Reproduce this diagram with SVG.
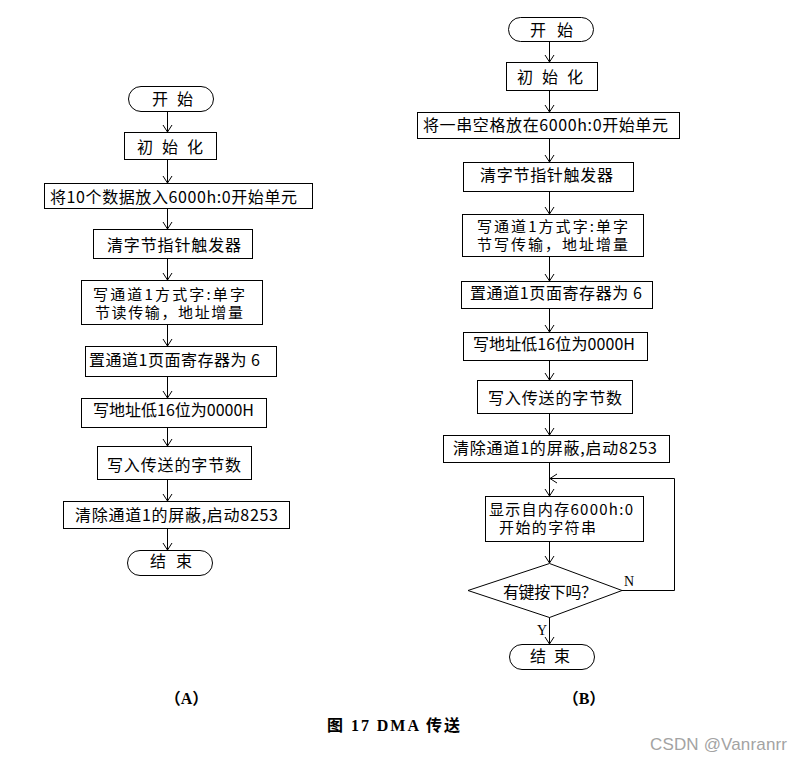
<svg xmlns="http://www.w3.org/2000/svg" width="805" height="760" viewBox="0 0 805 760">
<style>
  .box { fill: #fff; stroke: #000; stroke-width: 1; }
  .t { font-family: "Noto Sans CJK SC", "Liberation Sans", sans-serif; font-size: 16px; fill: #000; }
  .t2 { font-family: "Noto Sans CJK SC", "Liberation Sans", sans-serif; font-size: 15px; fill: #000; }
  .lbl { font-family: "Liberation Serif", serif; font-size: 13px; fill: #000; }
  .cap { font-family: "Liberation Serif", "Noto Sans CJK SC", serif; font-weight: bold; font-size: 16px; fill: #000; }
  .conn { fill: none; stroke: #000; stroke-width: 1; }
  .wm { font-family: "Liberation Sans", sans-serif; font-size: 17px; fill: #a3a3a3; }
</style>
<defs>
  <marker id="arr" markerUnits="userSpaceOnUse" markerWidth="12" markerHeight="12" refX="0" refY="0" viewBox="-8 -6 10 12" orient="auto" overflow="visible">
    <path d="M-7,-4.5 L0,0 L-7,4.5" fill="none" stroke="#000" stroke-width="1"/>
  </marker>
</defs>
<rect width="805" height="760" fill="#fff"/>

<!-- Connectors -->
<g id="connectors" class="conn" marker-end="url(#arr)">
  <line x1="167.5" y1="111" x2="167.5" y2="132"/>
  <line x1="167.5" y1="159" x2="167.5" y2="183"/>
  <line x1="167.5" y1="208" x2="167.5" y2="229"/>
  <line x1="167.5" y1="258" x2="167.5" y2="280"/>
  <line x1="167.5" y1="324" x2="167.5" y2="346"/>
  <line x1="167.5" y1="376" x2="167.5" y2="398"/>
  <line x1="167.5" y1="427" x2="167.5" y2="446"/>
  <line x1="167.5" y1="479" x2="167.5" y2="501"/>
  <line x1="167.5" y1="528" x2="167.5" y2="550"/>

  <line x1="549.5" y1="41" x2="549.5" y2="62"/>
  <line x1="549.5" y1="90" x2="549.5" y2="112"/>
  <line x1="549.5" y1="138" x2="549.5" y2="162"/>
  <line x1="549.5" y1="191" x2="549.5" y2="214"/>
  <line x1="549.5" y1="256" x2="549.5" y2="281"/>
  <line x1="549.5" y1="308" x2="549.5" y2="332"/>
  <line x1="549.5" y1="360" x2="549.5" y2="380"/>
  <line x1="549.5" y1="413" x2="549.5" y2="435"/>
  <line x1="549.5" y1="462" x2="549.5" y2="496"/>
  <line x1="549.5" y1="541" x2="549.5" y2="563"/>
  <line x1="549.5" y1="617" x2="549.5" y2="644"/>
  <polyline points="622,590.5 674.5,590.5 674.5,478.5 550,478.5"/>
</g>

<!-- Flowchart A -->
<g id="a-start"><rect class="box" x="128.5" y="86.5" width="85" height="25" rx="12.5"/><text class="t" x="152" y="105" textLength="41">开 始</text></g>
<g id="a-init"><rect class="box" x="124.5" y="132.5" width="92" height="27"/><text class="t" x="137" y="153" textLength="66">初 始 化</text></g>
<g id="a-load"><rect class="box" x="44.5" y="183.5" width="268" height="25"/><text class="t" x="50" y="203" textLength="247">将10个数据放入6000h:0开始单元</text></g>
<g id="a-clear"><rect class="box" x="93.5" y="229.5" width="159" height="29"/><text class="t" x="107" y="251" textLength="134">清字节指针触发器</text></g>
<g id="a-mode"><rect class="box" x="81.5" y="280.5" width="181" height="44"/><text class="t2" x="93" y="300" textLength="152">写通道1方式字:单字</text><text class="t2" x="95" y="318" textLength="148">节读传输，地址增量</text></g>
<g id="a-page"><rect class="box" x="85.5" y="346.5" width="191" height="30"/><text class="t" x="89" y="366" textLength="171">置通道1页面寄存器为 6</text></g>
<g id="a-addr"><rect class="box" x="81.5" y="398.5" width="185" height="29"/><text class="t" x="93" y="416" textLength="161">写地址低16位为0000H</text></g>
<g id="a-count"><rect class="box" x="97.5" y="446.5" width="154" height="33"/><text class="t" x="107" y="471" textLength="134">写入传送的字节数</text></g>
<g id="a-unmask"><rect class="box" x="63.5" y="501.5" width="226" height="27"/><text class="t" x="75" y="521" textLength="203">清除通道1的屏蔽,启动8253</text></g>
<g id="a-end"><rect class="box" x="127.5" y="550.5" width="85" height="25" rx="12.5"/><text class="t" x="150" y="567" textLength="42">结 束</text></g>

<!-- Flowchart B -->
<g id="b-start"><rect class="box" x="508.5" y="17.5" width="85" height="24" rx="12"/><text class="t" x="530" y="36" textLength="43">开 始</text></g>
<g id="b-init"><rect class="box" x="506.5" y="62.5" width="91" height="28"/><text class="t" x="517" y="83" textLength="66">初 始 化</text></g>
<g id="b-load"><rect class="box" x="417.5" y="112.5" width="262" height="26"/><text class="t" x="423" y="131" textLength="245">将一串空格放在6000h:0开始单元</text></g>
<g id="b-clear"><rect class="box" x="463.5" y="162.5" width="170" height="29"/><text class="t" x="480" y="181" textLength="133">清字节指针触发器</text></g>
<g id="b-mode"><rect class="box" x="462.5" y="214.5" width="181" height="42"/><text class="t2" x="477" y="232" textLength="151">写通道1方式字:单字</text><text class="t2" x="477" y="250" textLength="151">节写传输，地址增量</text></g>
<g id="b-page"><rect class="box" x="461.5" y="281.5" width="191" height="27"/><text class="t" x="470" y="299" textLength="172">置通道1页面寄存器为 6</text></g>
<g id="b-addr"><rect class="box" x="463.5" y="332.5" width="184" height="28"/><text class="t" x="473" y="350" textLength="162">写地址低16位为0000H</text></g>
<g id="b-count"><rect class="box" x="477.5" y="380.5" width="155" height="33"/><text class="t" x="488" y="404" textLength="134">写入传送的字节数</text></g>
<g id="b-unmask"><rect class="box" x="443.5" y="435.5" width="226" height="27"/><text class="t" x="453" y="454" textLength="204">清除通道1的屏蔽,启动8253</text></g>
<g id="b-show"><rect class="box" x="485.5" y="496.5" width="158" height="45"/><text class="t2" x="489" y="515" textLength="144">显示自内存6000h:0</text><text class="t2" x="499" y="533" textLength="97">开始的字符串</text></g>
<g id="b-key"><polygon class="box" points="549.5,563.5 622,590.5 549.5,617.5 468,590.5"/><text class="t" x="503" y="598" textLength="94">有键按下吗？</text></g>
<g id="b-end"><rect class="box" x="509.5" y="644.5" width="85" height="25" rx="12.5"/><text class="t" x="530" y="662" textLength="40">结 束</text></g>

<!-- Labels -->
<text class="lbl" x="624" y="586" style="font-size:14px">N</text>
<text class="lbl" x="537" y="635" style="font-size:14px">Y</text>

<!-- Captions -->
<text class="cap" x="186.5" y="704" text-anchor="middle">（A）</text>
<text class="cap" x="584" y="704" text-anchor="middle">（B）</text>
<text class="cap" x="327" y="731" textLength="133">图 17 DMA 传送</text>
<text class="wm" x="650" y="750" textLength="137">CSDN @Vanranrr</text>
</svg>
